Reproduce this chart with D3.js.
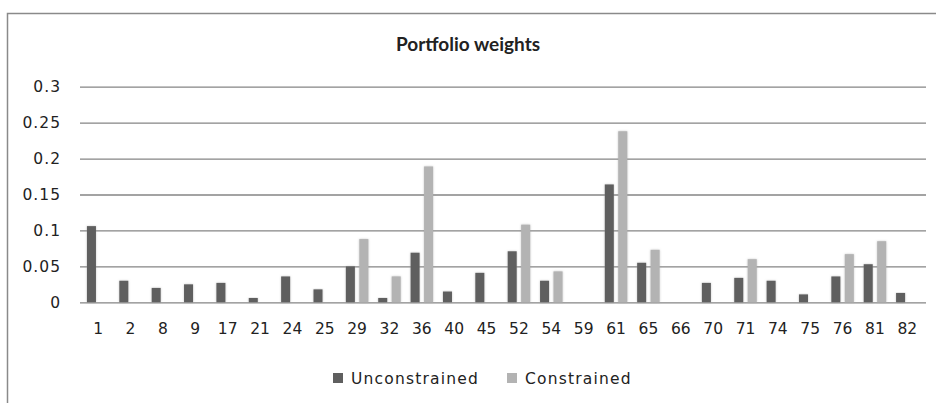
<!DOCTYPE html>
<html>
<head>
<meta charset="utf-8">
<script src="https://cdn.jsdelivr.net/npm/d3@7"></script>
<style>
  body { margin: 0; background: #fff; }
  text { font-family: "DejaVu Sans", sans-serif; fill: #222; }
</style>
</head>
<body>
<div class="canvas"></div>
<script>
// asset ids on the x axis
const categories = ['1','2','8','9','17','21','24','25','29','32','36','40','45','52','54','59','61','65','66','70','71','74','75','76','81','82'];
const unconstrained = [0.106,0.030,0.020,0.025,0.027,0.006,0.036,0.018,0.050,0.006,0.069,0.015,0.041,0.071,0.030,0,0.164,0.055,0,0.027,0.034,0.030,0.011,0.036,0.053,0.013];
const constrained   = [0,0,0,0,0,0,0,0,0.088,0.036,0.189,0,0,0.108,0.043,0,0.238,0.073,0,0,0.060,0,0,0.067,0.085,0];
const seriesNames = ['Unconstrained', 'Constrained'];
const yTicks = [0, 0.05, 0.1, 0.15, 0.2, 0.25, 0.3];

const width = 936;
const height = 403;
const colors = {Unconstrained: '#5f5f5f', Constrained: '#b3b3b3'};

const data = categories.map((c, i) => ({
    cat: c,
    Unconstrained: unconstrained[i],
    Constrained: constrained[i]
}));

////////// SVG ///////////////////
const svg = d3.select('.canvas')
    .append('svg')
    .attr('width', width)
    .attr('height', height);

const defs = svg.append('defs');
const glow = defs.append('filter').attr('id', 'glow')
    .attr('x', '-50%').attr('y', '-10%').attr('width', '200%').attr('height', '120%');
glow.append('feDropShadow')
    .attr('dx', 0).attr('dy', 0)
    .attr('stdDeviation', 1.3)
    .attr('flood-color', '#9a9a9a')
    .attr('flood-opacity', 0.55);

// chart border (cut off at right / bottom)
svg.append('path')
    .attr('d', `M7.5,${height} V13.5 H${width}`)
    .attr('fill', 'none')
    .attr('stroke', '#8a8a8a')
    .attr('stroke-width', 1.5);

svg.append('text')
    .attr('x', 468)
    .attr('y', 51)
    .attr('text-anchor', 'middle')
    .style('font-family', 'Lato, sans-serif')
    .style('font-weight', 'bold')
    .style('font-size', '19px')
    .text('Portfolio weights');

////////// SCALES ///////////////////
const y = d3.scaleLinear()
    .domain([0, 0.3])
    .range([302.3, 86.7]);

const x0 = d3.scaleBand()
    .domain(categories)
    .range([82, 923.5])
    .paddingInner(0.305)
    .paddingOuter(0.1525);

const x1 = d3.scaleBand()
    .domain(seriesNames)
    .range([0, x0.bandwidth()])
    .paddingInner(0.33);

////////// GRID + AXES ///////////////////
const yAxis = d3.axisLeft(y)
    .tickValues(yTicks)
    .tickSize(0)
    .tickPadding(19)
    .tickFormat(d => d === 0 ? '0' : String(+d.toFixed(2)));

const gY = svg.append('g')
    .attr('transform', 'translate(80,0)')
    .call(yAxis);
gY.select('.domain').remove();
gY.selectAll('.tick text')
    .style('font-family', '"DejaVu Sans", sans-serif')
    .style('font-size', '15.5px')
    .style('letter-spacing', '1px')
    .attr('fill', '#222');
gY.selectAll('.tick')
    .append('line')
    .attr('x1', 0)
    .attr('x2', 846)
    .attr('stroke', '#858585')
    .attr('stroke-width', 1.3);

const xAxis = d3.axisBottom(x0)
    .tickSize(0)
    .tickPadding(21);

const gX = svg.append('g')
    .attr('transform', `translate(0,${y(0)})`)
    .call(xAxis);
gX.select('.domain').remove();
gX.selectAll('.tick text')
    .style('font-family', '"DejaVu Sans", sans-serif')
    .style('font-size', '15.5px')
    .attr('fill', '#222');

////////// BARS ///////////////////
const groups = svg.append('g')
    .selectAll('g')
    .data(data)
    .enter()
    .append('g')
    .attr('transform', d => `translate(${x0(d.cat)},0)`);

groups.selectAll('rect')
    .data(d => seriesNames.map(k => ({key: k, value: d[k]})).filter(e => e.value > 0))
    .enter()
    .append('rect')
    .attr('x', d => x1(d.key))
    .attr('width', x1.bandwidth())
    .attr('y', d => y(d.value))
    .attr('height', d => y(0) - y(d.value))
    .attr('fill', d => colors[d.key])
    .attr('filter', 'url(#glow)');

////////// LEGEND ///////////////////
const legendX = [333, 507];
const legend = svg.append('g')
    .selectAll('g')
    .data(seriesNames)
    .enter()
    .append('g')
    .attr('transform', (d, i) => `translate(${legendX[i]},373)`);

legend.append('rect')
    .attr('width', 10)
    .attr('height', 10)
    .attr('fill', d => colors[d]);

legend.append('text')
    .attr('x', 18)
    .attr('y', 10.5)
    .style('font-family', '"DejaVu Sans", sans-serif')
    .style('font-size', '15.5px')
    .style('letter-spacing', '1.2px')
    .text(d => d);
</script>
</body>
</html>
